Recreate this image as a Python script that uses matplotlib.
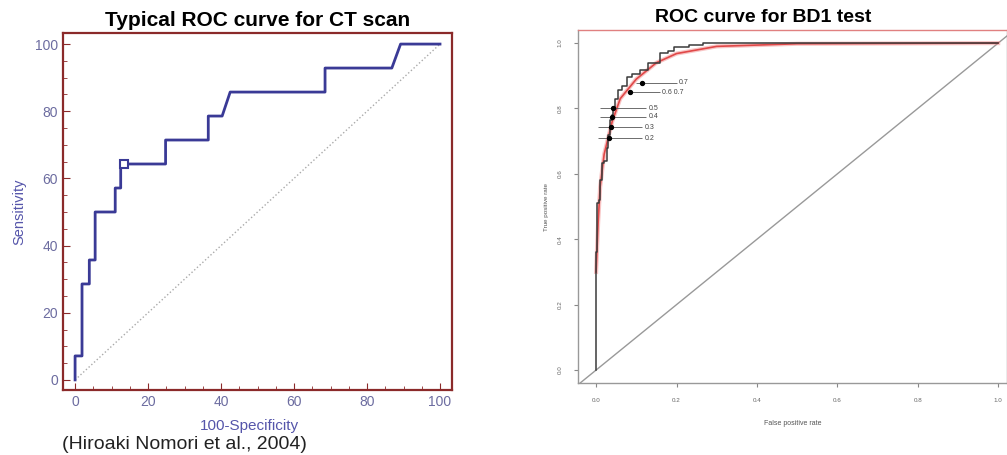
import matplotlib
matplotlib.use("Agg")
import matplotlib.pyplot as plt
from matplotlib.ticker import MultipleLocator

plt.rcParams["font.family"] = ["Liberation Sans", "DejaVu Sans"]

# Left panel: CT scan ROC (step curve, in %)
ct_fpr = [0, 0, 1.9, 1.9, 3.9, 3.9, 5.5, 5.5, 11, 11, 12.5, 12.5, 24.8, 24.8,
          36.5, 36.5, 40.3, 42.5, 68.5, 68.5, 86.8, 89.2, 100]
ct_tpr = [0, 7.14, 7.14, 28.57, 28.57, 35.71, 35.71, 50, 50, 57.14, 57.14, 64.29,
          64.29, 71.43, 71.43, 78.57, 78.57, 85.71, 85.71, 92.86, 92.86, 100, 100]
ct_cut = (13.5, 64.29)
ct_ticks = [0, 20, 40, 60, 80, 100]

# Right panel: BD1 test ROC curves
bd_black_fpr = [0, 0, 0.002, 0.006, 0.01, 0.014, 0.02, 0.026, 0.03, 0.035, 0.04,
                0.043, 0.047, 0.055, 0.065, 0.076, 0.09, 0.11, 0.13, 0.16, 0.18,
                0.193, 0.23, 0.267, 0.5, 1.0]
bd_black_tpr = [0, 0.36, 0.51, 0.52, 0.58, 0.633, 0.64, 0.68, 0.72, 0.765, 0.78,
                0.80, 0.83, 0.856, 0.87, 0.896, 0.905, 0.917, 0.94, 0.969, 0.975,
                0.988, 0.995, 1.0, 1.0, 1.0]
bd_red_fpr = [0, 0.005, 0.01, 0.02, 0.04, 0.06, 0.1, 0.15, 0.2, 0.3, 0.5, 1.0]
bd_red_tpr = [0.30, 0.45, 0.56, 0.66, 0.76, 0.83, 0.89, 0.94, 0.968, 0.99, 0.998, 1.0]
thr_labels = ["0.7", "0.6 0.7", "0.5", "0.4", "0.3", "0.2"]
thr_y = [0.878, 0.85, 0.80, 0.774, 0.743, 0.709]
thr_x0 = [0.10, 0.08, 0.01, 0.01, 0.005, 0.005]
thr_x1 = [0.2, 0.16, 0.125, 0.125, 0.115, 0.115]
thr_dot = [0.115, 0.085, 0.043, 0.04, 0.037, 0.033]
bd_ticks = [0.0, 0.2, 0.4, 0.6, 0.8, 1.0]

fig = plt.figure(figsize=(10.07, 4.55), dpi=100)

# ---- left ----
ax1 = fig.add_axes([0.0626, 0.1429, 0.3863, 0.7846])
frame = "#8b2a2a"
ax1.plot([0, 100], [0, 100], ls=":", color="#aaaaaa", lw=1)
ax1.plot(ct_fpr, ct_tpr, color="#3a3a96", lw=2)
ax1.plot(*ct_cut, marker="s", ms=6, mfc="white", mec="#3a3a96", mew=1.5)
ax1.set_xlim(-3.3, 103.3)
ax1.set_ylim(-3, 103.3)
ax1.set_xticks(ct_ticks)
ax1.set_yticks(ct_ticks)
ax1.xaxis.set_minor_locator(MultipleLocator(5))
ax1.yaxis.set_minor_locator(MultipleLocator(5))
for s in ax1.spines.values():
    s.set_color(frame)
    s.set_linewidth(1.6)
ax1.tick_params(which="both", direction="in", color=frame, labelcolor="#6c6ca0",
                labelsize=10, top=False, right=False)
ax1.tick_params(which="major", length=5)
ax1.tick_params(which="minor", length=3)
ax1.set_ylabel("Sensitivity", color="#5555aa", fontsize=10.5, labelpad=6)
fig.text(0.248, 0.064, "100-Specificity", color="#5555aa", fontsize=11, ha="center",
         va="center")
fig.text(0.062, 0.024, "(Hiroaki Nomori et al., 2004)", color="#222222", fontsize=14,
         va="center")
fig.text(0.256, 0.955, "Typical ROC curve for CT scan", fontsize=15, weight="bold",
         ha="center", va="center")

# ---- right ----
ax2 = fig.add_axes([0.574, 0.158, 0.426, 0.776])
ax2.axline((0, 0), (1, 1), color="#999999", lw=1)
ax2.plot(bd_red_fpr, bd_red_tpr, color="#f08080", lw=3, alpha=0.45)
ax2.plot(bd_red_fpr, bd_red_tpr, color="#e04848", lw=1.2)
ax2.step(bd_black_fpr, bd_black_tpr, where="post", color="#3a3a3a", lw=1.1)
ax2.hlines(thr_y, thr_x0, thr_x1, color="#555555", lw=0.6)
ax2.scatter(thr_dot, thr_y, s=8, color="black", zorder=3)
for lab, y, x in zip(thr_labels, thr_y, thr_x1):
    ax2.text(x + 0.005, y, lab, fontsize=5, va="center", color="#444444")
ax2.set_xlim(-0.045, 1.022)
ax2.set_ylim(-0.04, 1.04)
ax2.set_xticks(bd_ticks)
ax2.set_yticks(bd_ticks)
ax2.set_xticklabels([f"{t:.1f}" for t in bd_ticks])
ax2.set_yticklabels([f"{t:.1f}" for t in bd_ticks], rotation=90, va="center")
for s in ax2.spines.values():
    s.set_color("#999999")
    s.set_linewidth(1)
ax2.spines["top"].set_color("#e08080")
ax2.tick_params(labelsize=4.5, labelcolor="#666666", color="#888888", length=3,
                pad=8)
ax2.set_xlabel("False positive rate", fontsize=5, color="#555555", labelpad=12)
ax2.set_ylabel("True positive rate", fontsize=4.5, color="#555555", labelpad=6)
fig.text(0.758, 0.962, "ROC curve for BD1 test", fontsize=14, weight="bold",
         ha="center", va="center")

fig.savefig("out.png", dpi=100)
